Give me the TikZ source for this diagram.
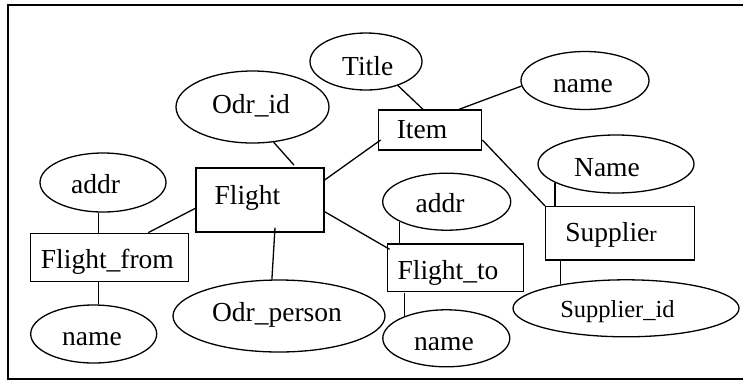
\documentclass[tikz,border=0pt]{standalone}
\usepackage{fontspec}
\setmainfont{Liberation Serif}
\usetikzlibrary{shapes.geometric}
\tikzset{
  attr/.style n args={2}{ellipse, draw, line width=1.3pt, minimum width=#1, minimum height=#2, inner sep=0pt},
  ent/.style n args={2}{rectangle, draw, line width=1.3pt, minimum width=#1, minimum height=#2, inner sep=0pt},
  lbl/.style={anchor=base, inner sep=0pt, font=\fontsize{27.5}{30}\selectfont},
  lblsmall/.style={anchor=base, inner sep=0pt, font=\fontsize{24.5}{27}\selectfont},
  link/.style={line width=1.3pt}
}
\begin{document}
\begin{tikzpicture}[x=1pt, y=-1pt]
\useasboundingbox (0,0) rectangle (743,381);
% outer frame (right side runs off the page)
\draw[line width=1.4pt] (745,5) -- (8,5) -- (8,379) -- (745,379);

% entities
\node[ent={128pt}{64pt}] (flight) at (260,200) {};
\node[lbl] (flightt) at (247.5,204.5) {Flight};
\node[ent={158pt}{48.5pt}] (ffrom) at (109.8,257.5) {};
\node[lbl] (ffromt) at (107.4,268.3) {Flight\_from};
\node[ent={103.4pt}{40pt}] (item) at (430,130) {};
\node[lbl] (itemt) at (422,138.3) {Item};
\node[ent={136pt}{47.7pt}] (fto) at (455.3,267.8) {};
\node[lbl] (ftot) at (448,279) {Flight\_to};
\node[ent={148.6pt}{53.3pt}] (suppl) at (620,233.3) {};
\node[lbl] (supplt) at (611,241.7) {Supplie{\fontsize{22}{24}\selectfont r}};

% attributes
\node[attr={153pt}{72pt}] (odrid) at (252.5,107) {};
\node[lbl] (odridt) at (251,113.3) {Odr\_id};
\node[attr={112pt}{57pt}] (title) at (366,61.5) {};
\node[lbl] (titlet) at (367.7,75) {Title};
\node[attr={128pt}{58pt}] (namei) at (585,80.5) {};
\node[lbl] (nameit) at (583,92.7) {name};
\node[attr={156pt}{58pt}] (names) at (616,164) {};
\node[lbl] (namest) at (607,176) {Name};
\node[attr={126pt}{59pt}] (addrl) at (103,182.5) {};
\node[lbl] (addrlt) at (95.5,193) {addr};
\node[attr={128pt}{57pt}] (addrr) at (446.7,201.7) {};
\node[lbl] (addrrt) at (440,212.3) {addr};
\node[attr={126pt}{58pt}] (namel) at (93.7,334) {};
\node[lbl] (namelt) at (92,345) {name};
\node[attr={212pt}{72pt}] (odrp) at (279,316) {};
\node[lbl] (odrpt) at (277,321.7) {Odr\_person};
\node[attr={127pt}{57pt}] (nameb) at (446.3,338.3) {};
\node[lbl] (namebt) at (444,350) {name};
\node[attr={226pt}{57pt}] (supid) at (626,308.3) {};
\node[lblsmall] (supidt) at (617.5,317.3) {Supplier\_id};

% relationships
\draw[link, shorten >=3pt] (odrid.-59) -- ([xshift=36pt]flight.north);
\draw[link] ([yshift=20pt]flight.east) -- ([xshift=3pt,yshift=-10pt]item.west);
\draw[link] (title.-37) -- ([xshift=-7pt]item.north);
\draw[link] (namei.185) -- ([xshift=29pt]item.north);
\draw[link] ([yshift=-10pt]item.east) -- (suppl.north west);
\draw[link] (names.-163.6) -- (names.-163.6 |- suppl.north);
\draw[link] (supid.160.7) -- ([yshift=2pt]supid.160.7 |- suppl.south);
\draw[link] ([yshift=-11.7pt]flight.east) -- ([xshift=3pt,yshift=-6pt]fto.north west);
\draw[link] (addrr.203) -- (addrr.203 |- fto.north);
\draw[link] (nameb.152.3) -- ([yshift=-1pt]nameb.152.3 |- fto.south);
\draw[link] ([yshift=-8.3pt]flight.west) -- ([xshift=38.5pt]ffrom.north);
\draw[link] (addrl.-99) -- (addrl.-99 |- ffrom.north);
\draw[link] (namel.81) -- (namel.81 |- ffrom.south);
\draw[link] ([xshift=15pt,yshift=5pt]flight.south) -- (odrp.101.5);
\end{tikzpicture}
\end{document}
